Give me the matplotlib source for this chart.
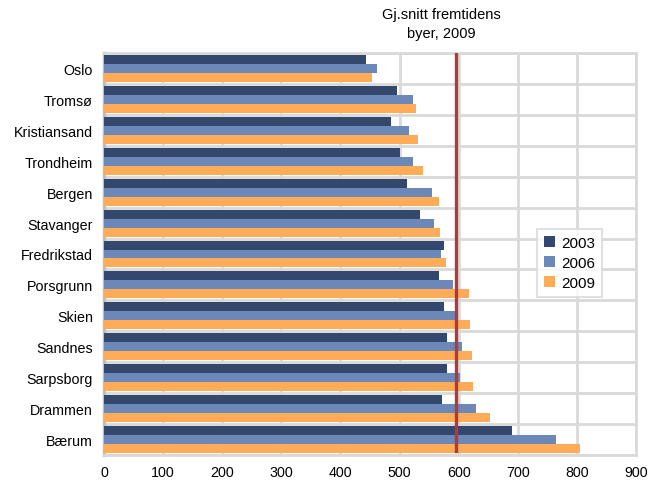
import matplotlib
matplotlib.use("Agg")
import matplotlib.pyplot as plt
import numpy as np

plt.rcParams['font.family'] = ['Liberation Sans', 'DejaVu Sans']

cities = ["Oslo", "Tromsø", "Kristiansand", "Trondheim", "Bergen", "Stavanger",
          "Fredrikstad", "Porsgrunn", "Skien", "Sandnes", "Sarpsborg", "Drammen", "Bærum"]
v2003 = [444, 496, 485, 501, 513, 534, 575, 567, 575, 580, 580, 572, 691]
v2006 = [462, 523, 516, 523, 555, 559, 570, 591, 594, 605, 603, 630, 764]
v2009 = [454, 527, 531, 539, 567, 568, 579, 617, 620, 622, 624, 653, 805]
years = ["2003", "2006", "2009"]
avg_2009 = 595
avg_label = "Gj.snitt fremtidens\nbyer, 2009"
xticks = [0, 100, 200, 300, 400, 500, 600, 700, 800, 900]

colors = ["#34486e", "#6b88b8", "#ffab57"]
grid_col = "#d9d9d9"

fig = plt.figure(figsize=(6.66, 4.81), dpi=100)
ax = fig.add_axes([104/666, 25/481, (636-104)/666, (456-54)/481])

y = np.arange(len(cities))
h = 0.29
for k, (vals, col, lab) in enumerate(zip([v2003, v2006, v2009], colors, years)):
    ax.barh(y + (k - 1) * h, vals, height=h, color=col, label=lab,
            edgecolor="none", zorder=3)

ax.set_xlim(0, 900)
ax.set_ylim(len(cities) - 0.5, -0.5)
ax.set_xticks(xticks)
ax.set_xticklabels([str(t) for t in xticks], fontsize=10.3)
ax.set_yticks(y)
ax.set_yticklabels(cities, fontsize=10.3)
ax.set_yticks(np.arange(len(cities) + 1) - 0.5, minor=True)
ax.tick_params(axis="both", which="both", length=0)
ax.tick_params(axis="y", pad=8)
ax.tick_params(axis="x", pad=7)

ax.grid(axis="x", color=grid_col, linewidth=2.0, zorder=0)
ax.grid(axis="y", which="minor", color=grid_col, linewidth=2.0, zorder=0)
ax.grid(axis="y", which="major", visible=False)

for s in ["top", "right", "bottom"]:
    ax.spines[s].set_color(grid_col)
    ax.spines[s].set_linewidth(2.0)
ax.spines["left"].set_color("#bfbfbf")
ax.spines["left"].set_linewidth(2.5)

ax.axvline(avg_2009, color="#b03a3a", linewidth=2.4, zorder=4, ymin=0.01, ymax=1.0)
ax.text(avg_2009 - 25, 1 + 13/402, avg_label, transform=ax.get_xaxis_transform(),
        ha="center", va="bottom", fontsize=10.5, linespacing=1.45)

leg = ax.legend(loc="upper left", bbox_to_anchor=((537-104)/532, (456-230)/402),
                fontsize=11, frameon=True, fancybox=False, handlelength=0.75,
                handleheight=0.75, handletextpad=0.4, labelspacing=0.4,
                borderpad=0.45, borderaxespad=0)
leg.get_frame().set_edgecolor(grid_col)
leg.get_frame().set_linewidth(1.5)
leg.set_zorder(5)

fig.savefig("out.png", dpi=100)
